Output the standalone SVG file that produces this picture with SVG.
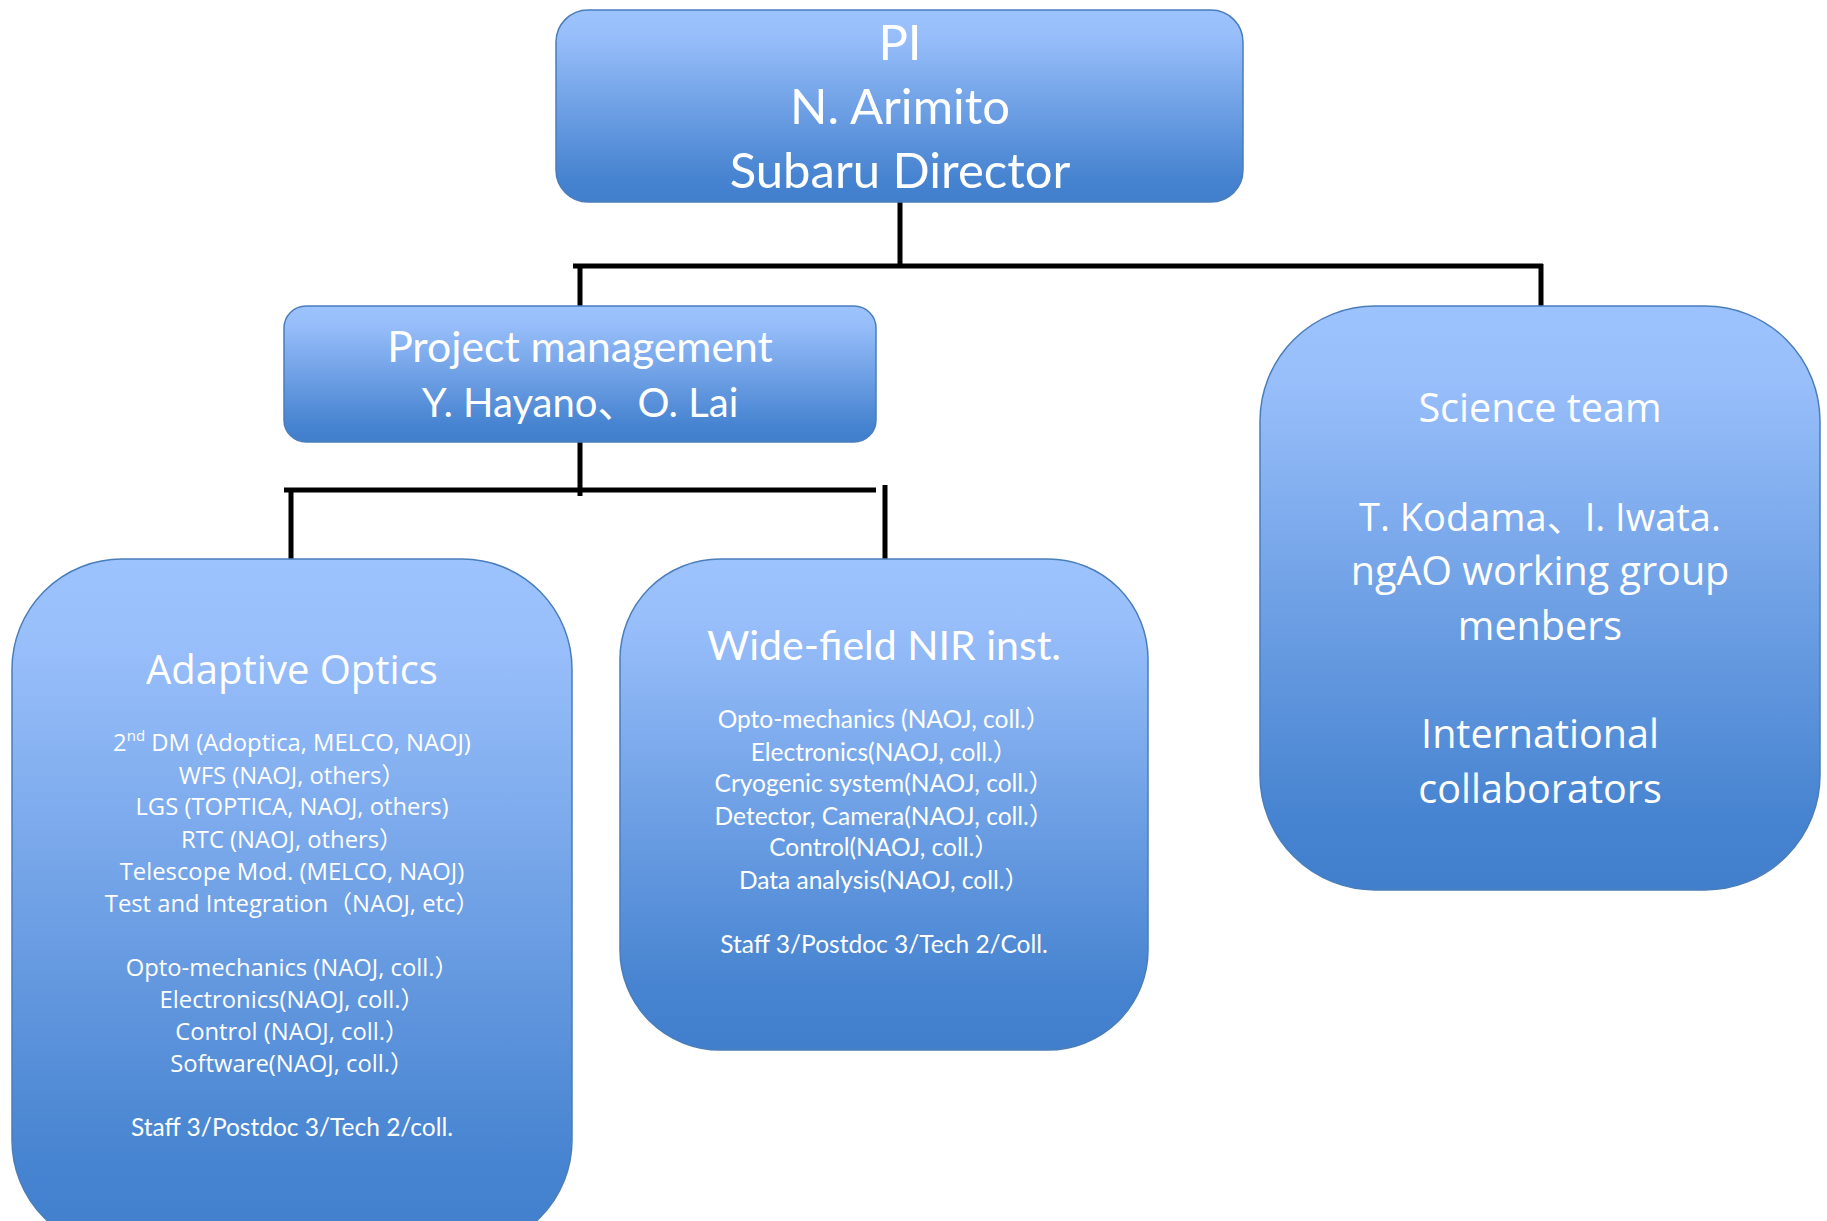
<svg xmlns="http://www.w3.org/2000/svg" width="1827" height="1221" viewBox="0 0 1827 1221">
<defs>
<linearGradient id="g" x1="0" y1="0" x2="0" y2="1">
<stop offset="0" stop-color="#9DC3FE"/>
<stop offset="0.12" stop-color="#99BFFB"/>
<stop offset="0.88" stop-color="#4683D0"/>
<stop offset="1" stop-color="#417FCC"/>
</linearGradient>
<style>
.box{fill:url(#g);stroke:#4A7EBB;stroke-width:1.5}
.c{font-family:Lato,"Liberation Sans","Noto Sans CJK JP",sans-serif;fill:#fff;text-anchor:middle}
.o{font-family:"Open Sans","Liberation Sans","Noto Sans CJK JP",sans-serif;fill:#fff;text-anchor:middle}
.ln{stroke:#000;stroke-width:5;fill:none}
</style>
</defs>
<rect width="1827" height="1221" fill="#fff"/>
<g id="connectors">
<line class="ln" x1="900" y1="202" x2="900" y2="268"/>
<line class="ln" x1="573" y1="266" x2="1543" y2="266"/>
<line class="ln" x1="580" y1="264" x2="580" y2="306"/>
<line class="ln" x1="1541" y1="264" x2="1541" y2="306"/>
<line class="ln" x1="580" y1="442" x2="580" y2="496"/>
<line class="ln" x1="284" y1="490" x2="876" y2="490"/>
<line class="ln" x1="291" y1="488" x2="291" y2="559"/>
<line class="ln" x1="885" y1="485" x2="885" y2="559"/>
</g>
<g id="pi">
<rect class="box" x="556" y="10" width="687" height="192" rx="32"/>
<text class="c" font-size="49" x="900" y="60">PI</text>
<text class="c" font-size="49" x="900" y="124">N. Arimito</text>
<text class="c" font-size="49" x="900" y="188">Subaru Director</text>
</g>
<g id="pm">
<rect class="box" x="284" y="306" width="592" height="136" rx="22"/>
<text class="c" font-size="42.7" x="580" y="362">Project management</text>
<text class="c" font-size="40" x="580" y="417">Y. Hayano、O. Lai</text>
</g>
<g id="ao">
<rect class="box" x="12" y="559" width="560" height="691" rx="110"/>
<text class="o" font-size="40" x="292" y="684">Adaptive Optics</text>
<g class="o" font-size="23.8">
<text x="292" y="751">2<tspan font-size="15" dy="-10">nd</tspan><tspan dy="10"> DM (Adoptica, MELCO, NAOJ)</tspan></text>
<text x="292" y="784">WFS (NAOJ, others）</text>
<text x="292" y="815">LGS (TOPTICA, NAOJ, others)</text>
<text x="292" y="848">RTC (NAOJ, others）</text>
<text x="292" y="880">Telescope Mod. (MELCO, NAOJ)</text>
<text x="292" y="912">Test and Integration（NAOJ, etc）</text>
<text x="292" y="976">Opto-mechanics (NAOJ, coll.）</text>
<text x="292" y="1008">Electronics(NAOJ, coll.）</text>
<text x="292" y="1040">Control (NAOJ, coll.）</text>
<text x="292" y="1072">Software(NAOJ, coll.）</text>
</g>
<text class="c" font-size="24.5" x="292" y="1136">Staff 3/Postdoc 3/Tech 2/coll.</text>
</g>
<g id="wf">
<rect class="box" x="620" y="559" width="528" height="491" rx="100"/>
<text class="c" font-size="41" x="884" y="660">Wide-field NIR inst.</text>
<g class="c" font-size="24.5">
<text x="884" y="728">Opto-mechanics (NAOJ, coll.）</text>
<text x="884" y="761">Electronics(NAOJ, coll.）</text>
<text x="884" y="792">Cryogenic system(NAOJ, coll.）</text>
<text x="884" y="825">Detector, Camera(NAOJ, coll.）</text>
<text x="884" y="856">Control(NAOJ, coll.）</text>
<text x="884" y="889">Data analysis(NAOJ, coll.）</text>
<text x="884" y="953">Staff 3/Postdoc 3/Tech 2/Coll.</text>
</g>
</g>
<g id="science">
<rect class="box" x="1260" y="306" width="560" height="584" rx="115"/>
<g class="o" font-size="39.5">
<text x="1540" y="422">Science team</text>
<text x="1540" y="531" font-size="38">T. Kodama、I. Iwata.</text>
<text x="1540" y="585">ngAO working group</text>
<text x="1540" y="640">menbers</text>
<text x="1540" y="748">International</text>
<text x="1540" y="803">collaborators</text>
</g>
</g>
</svg>
